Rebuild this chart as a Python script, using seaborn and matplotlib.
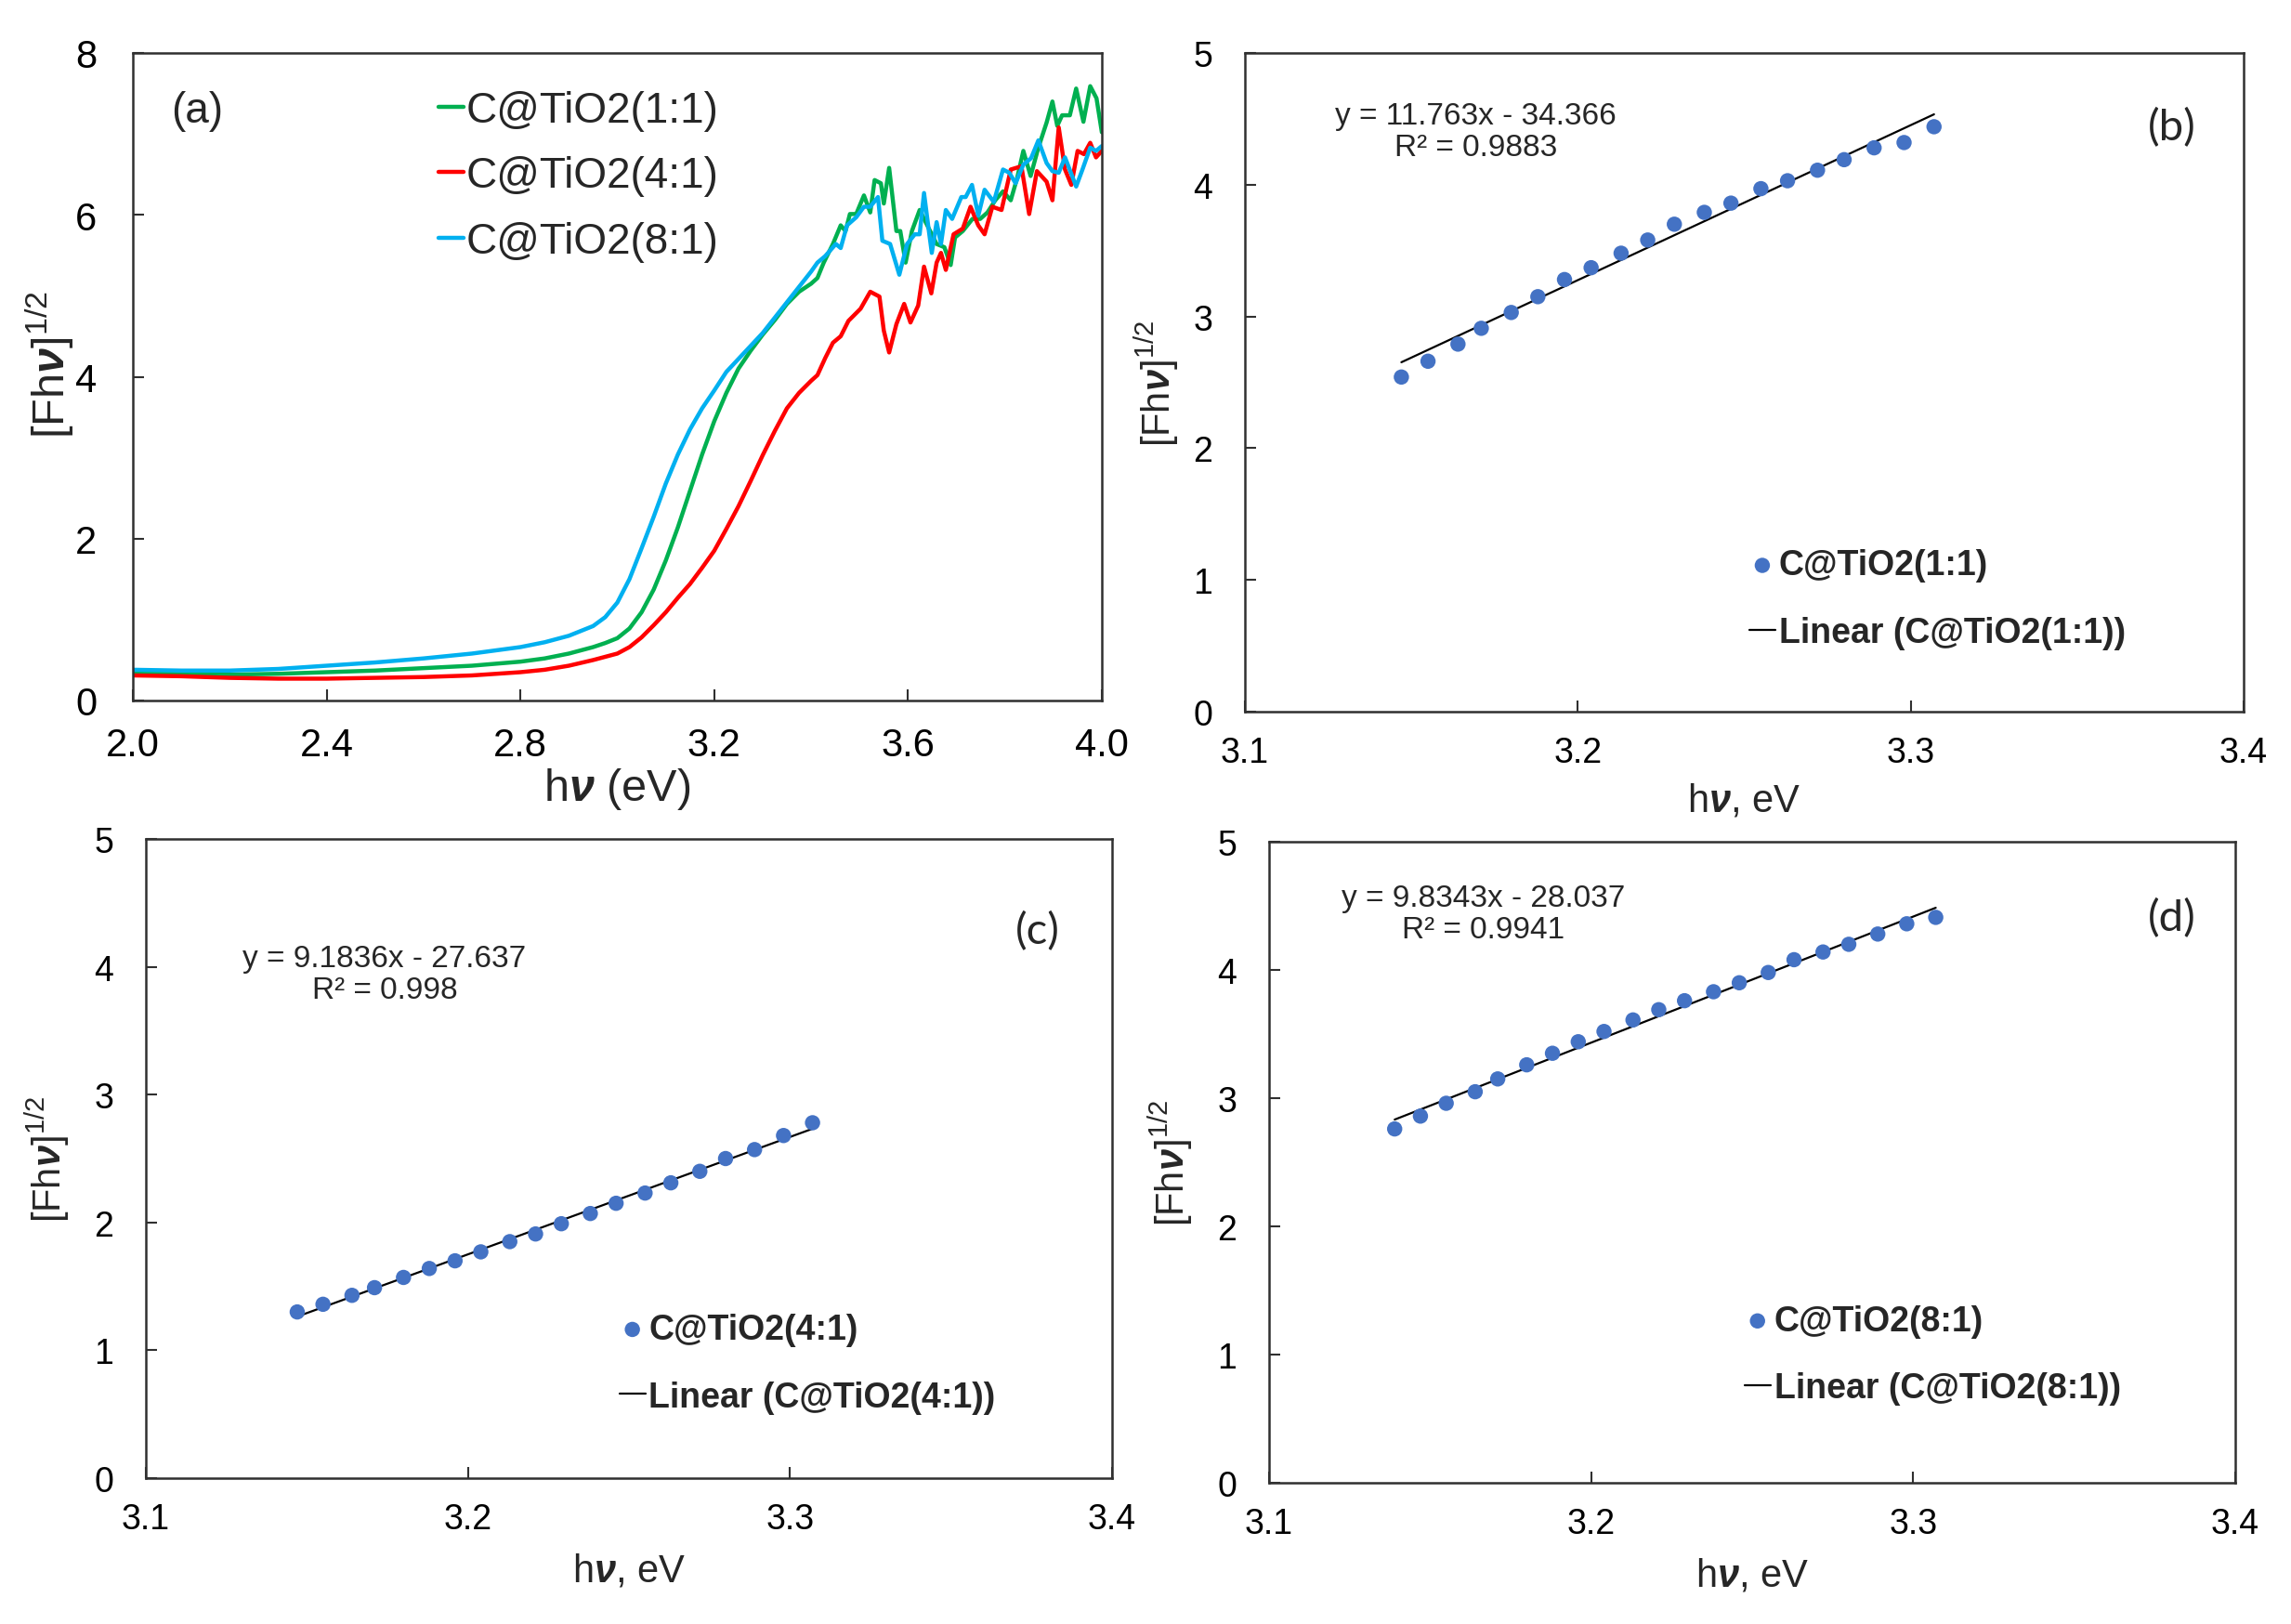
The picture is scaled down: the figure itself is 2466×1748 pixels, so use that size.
import numpy as np
import pandas as pd
import seaborn as sns
import matplotlib.pyplot as plt

sns.set_theme(style="white")
plt.rcParams['font.family'] = ['Liberation Sans', 'DejaVu Sans']
plt.rcParams['mathtext.fontset'] = 'custom'
plt.rcParams['mathtext.rm'] = 'Liberation Sans'
plt.rcParams['mathtext.it'] = 'Liberation Sans:italic'
plt.rcParams['mathtext.bf'] = 'Liberation Sans:bold'
plt.rcParams['mathtext.bfit'] = 'Liberation Sans:italic:bold'

# ---- panel (a): [F h nu]^1/2 vs h nu ----
x_smooth = [2.0, 2.1, 2.2, 2.3, 2.4, 2.5, 2.6, 2.7, 2.8, 2.85, 2.9, 2.95, 2.975, 3.0, 3.025,
            3.05, 3.075, 3.1, 3.125, 3.15, 3.175, 3.2, 3.225, 3.25, 3.275, 3.3, 3.325,
            3.35, 3.375, 3.4]

g11_smooth = [0.35, 0.34, 0.32, 0.33, 0.35, 0.37, 0.40, 0.43, 0.48, 0.52, 0.58, 0.66, 0.71,
              0.77, 0.89, 1.09, 1.37, 1.73, 2.14, 2.59, 3.04, 3.45, 3.80, 4.10, 4.32, 4.52,
              4.70, 4.90, 5.05, 5.15]
x11_noisy = [3.413, 3.426, 3.445, 3.461, 3.471, 3.480, 3.493, 3.509, 3.522, 3.531, 3.544,
             3.550, 3.561, 3.576, 3.584, 3.595, 3.608, 3.624, 3.643, 3.659, 3.675, 3.688,
             3.697, 3.713, 3.733, 3.749, 3.764, 3.780, 3.796, 3.812, 3.825, 3.838, 3.853,
             3.869, 3.886, 3.898, 3.908, 3.918, 3.934, 3.947, 3.962, 3.976, 3.989, 4.0]
g11_noisy = [5.22, 5.41, 5.64, 5.87, 5.80, 6.01, 6.01, 6.24, 6.03, 6.43, 6.39, 6.14, 6.58,
             5.80, 5.80, 5.41, 5.80, 6.06, 5.83, 5.64, 5.60, 5.38, 5.72, 5.80, 5.95, 5.95,
             6.03, 6.18, 6.29, 6.18, 6.45, 6.79, 6.48, 6.83, 7.14, 7.40, 7.10, 7.23, 7.23,
             7.56, 7.15, 7.59, 7.44, 7.02]

r41_smooth = [0.31, 0.30, 0.28, 0.27, 0.27, 0.28, 0.29, 0.31, 0.35, 0.38, 0.43, 0.50, 0.54,
              0.58, 0.66, 0.78, 0.93, 1.09, 1.27, 1.44, 1.64, 1.85, 2.12, 2.40, 2.71, 3.03,
              3.33, 3.61, 3.80, 3.95]
x41_noisy = [3.413, 3.429, 3.445, 3.461, 3.477, 3.502, 3.522, 3.541, 3.550, 3.561, 3.576,
             3.592, 3.605, 3.621, 3.633, 3.648, 3.659, 3.668, 3.678, 3.694, 3.713, 3.729,
             3.745, 3.758, 3.774, 3.793, 3.812, 3.834, 3.850, 3.866, 3.886, 3.898, 3.911,
             3.924, 3.937, 3.950, 3.963, 3.976, 3.988, 4.0]
r41_noisy = [4.02, 4.23, 4.42, 4.50, 4.69, 4.84, 5.05, 4.99, 4.57, 4.30, 4.65, 4.90, 4.67,
             4.88, 5.36, 5.03, 5.41, 5.53, 5.32, 5.76, 5.83, 6.10, 5.87, 5.76, 6.10, 6.06,
             6.56, 6.60, 6.01, 6.54, 6.41, 6.18, 7.08, 6.56, 6.37, 6.79, 6.75, 6.89, 6.71,
             6.79]

b81_smooth = [0.38, 0.37, 0.37, 0.39, 0.43, 0.47, 0.52, 0.58, 0.66, 0.72, 0.80, 0.92, 1.03,
              1.21, 1.50, 1.88, 2.27, 2.68, 3.04, 3.35, 3.61, 3.83, 4.06, 4.22, 4.38, 4.54,
              4.73, 4.92, 5.11, 5.30]
x81_noisy = [3.413, 3.429, 3.451, 3.461, 3.474, 3.493, 3.509, 3.522, 3.538, 3.547, 3.563,
             3.582, 3.598, 3.614, 3.624, 3.633, 3.643, 3.649, 3.659, 3.668, 3.678, 3.691,
             3.710, 3.719, 3.732, 3.745, 3.758, 3.777, 3.796, 3.809, 3.822, 3.838, 3.854,
             3.869, 3.886, 3.898, 3.911, 3.924, 3.947, 3.960, 3.976, 3.988, 4.0]
b81_noisy = [5.41, 5.49, 5.64, 5.59, 5.87, 5.97, 6.10, 6.10, 6.22, 5.68, 5.64, 5.26, 5.64,
             5.76, 5.76, 6.27, 5.80, 5.53, 5.91, 5.64, 6.06, 5.95, 6.22, 6.22, 6.37, 5.99,
             6.31, 6.16, 6.56, 6.52, 6.39, 6.62, 6.70, 6.92, 6.64, 6.54, 6.52, 6.71, 6.35,
             6.56, 6.83, 6.79, 6.85]

series_names = ['C@TiO2(1:1)', 'C@TiO2(4:1)', 'C@TiO2(8:1)']
series_colors = ['#00B050', '#FF0000', '#00B0F0']

# ---- panels (b)-(d): Tauc fits ----
x_fit = [3.147, 3.155, 3.164, 3.171, 3.180, 3.188, 3.196, 3.204, 3.213, 3.221, 3.229,
         3.238, 3.246, 3.255, 3.263, 3.272, 3.280, 3.289, 3.298, 3.307]
y_b = [2.54, 2.66, 2.79, 2.91, 3.03, 3.15, 3.28, 3.37, 3.48, 3.58, 3.70, 3.79, 3.86, 3.97,
       4.03, 4.11, 4.19, 4.28, 4.32, 4.44]
y_c = [1.30, 1.36, 1.43, 1.49, 1.57, 1.64, 1.70, 1.77, 1.85, 1.91, 1.99, 2.07, 2.15, 2.23,
       2.31, 2.40, 2.50, 2.57, 2.68, 2.78]
x_fit_d = [3.139, 3.147, 3.155, 3.164, 3.171, 3.180, 3.188, 3.196, 3.204, 3.213, 3.221,
           3.229, 3.238, 3.246, 3.255, 3.263, 3.272, 3.280, 3.289, 3.298, 3.307]
y_d = [2.76, 2.86, 2.96, 3.05, 3.15, 3.26, 3.35, 3.44, 3.52, 3.61, 3.69, 3.76, 3.83, 3.90,
       3.98, 4.08, 4.14, 4.20, 4.28, 4.36, 4.41]
slopes = [11.763, 9.1836, 9.8343]
intercepts = [-34.366, -27.637, -28.037]
eq_texts = ['y = 11.763x - 34.366\nR² = 0.9883',
            'y = 9.1836x - 27.637\nR² = 0.998',
            'y = 9.8343x - 28.037\nR² = 0.9941']
samples = ['C@TiO2(1:1)', 'C@TiO2(4:1)', 'C@TiO2(8:1)']

W, H = 2466, 1749
fig = plt.figure(figsize=(W / 100, H / 100), dpi=100)


def frame(l, r, t, b):
    return fig.add_axes([l / W, (H - b) / H, (r - l) / W, (b - t) / H])


ax_a = frame(143, 1186, 58, 755)
ax_b = frame(1340, 2415, 58, 767)
ax_c = frame(157, 1197, 904, 1592)
ax_d = frame(1366, 2406, 907, 1597)

ylab = r'[Fh$\boldsymbol{\nu}$]$^{1/2}$'

for ax in [ax_a, ax_b, ax_c, ax_d]:
    for s in ax.spines.values():
        s.set_color('#303030')
        s.set_linewidth(1.8)
    ax.tick_params(direction='in', length=8.5, width=1.5, color='#303030',
                   bottom=True, left=True, top=False, right=False)

# ---- (a)
curves = [(x_smooth + x11_noisy, g11_smooth + g11_noisy),
          (x_smooth + x41_noisy, r41_smooth + r41_noisy),
          (x_smooth + x81_noisy, b81_smooth + b81_noisy)]
for (xs, ys), name, col in zip(curves, series_names, series_colors):
    sns.lineplot(x=xs, y=ys, ax=ax_a, color=col, lw=3.2, label=name)
ax_a.set_xlim(2.0, 4.0)
ax_a.set_ylim(0, 8)
ax_a.set_xticks([2.0, 2.4, 2.8, 3.2, 3.6, 4.0])
ax_a.set_xticklabels(['2.0', '2.4', '2.8', '3.2', '3.6', '4.0'])
ax_a.set_yticks([0, 2, 4, 6, 8])
ax_a.tick_params(axis='both', labelsize=30, colors='#303030', labelcolor='black')
ax_a.tick_params(axis='x', pad=20)
ax_a.tick_params(axis='y', pad=28)
ax_a.set_xlabel(r'h$\boldsymbol{\nu}$ (eV)', fontsize=35, va='center')
ax_a.set_ylabel(ylab, fontsize=35, va='center')
ax_a.xaxis.set_label_coords(0.5, -0.135)
ax_a.yaxis.set_label_coords(-0.086, 0.52)
ax_a.text(0.066, 0.911, '(a)', transform=ax_a.transAxes, fontsize=33,
          ha='center', va='center')
ax_a.legend(loc='center left', bbox_to_anchor=(0.315, 0.81), frameon=False,
            fontsize=33, handlelength=0.6, handletextpad=0.05, labelspacing=0.57,
            borderpad=0, borderaxespad=0)

# ---- (b)-(d)
panels = [(ax_b, x_fit, y_b, '(b)', (0.928, 0.887), (0.231, 0.881), (0.505, 0.171)),
          (ax_c, x_fit, y_c, '(c)', (0.923, 0.856), (0.247, 0.788), (0.490, 0.180)),
          (ax_d, x_fit_d, y_d, '(d)', (0.934, 0.881), (0.222, 0.888), (0.492, 0.200))]
for i, (ax, xs, ys, tag, tag_pos, eq_pos, leg_pos) in enumerate(panels):
    sns.scatterplot(x=xs, y=ys, ax=ax, color='#4472C4', s=140, edgecolor='none',
                    label=samples[i], zorder=3)
    x_ends = [xs[0], xs[-1]]
    y_ends = [slopes[i] * v + intercepts[i] for v in x_ends]
    sns.lineplot(x=x_ends, y=y_ends, ax=ax, color='black', lw=1.6,
                 label='Linear (' + samples[i] + ')', zorder=2)
    ax.set_xlim(3.1, 3.4)
    ax.set_ylim(0, 5)
    ax.set_xticks([3.1, 3.2, 3.3, 3.4])
    ax.set_xticklabels(['3.1', '3.2', '3.3', '3.4'])
    ax.set_yticks([0, 1, 2, 3, 4, 5])
    ax.tick_params(axis='both', labelsize=27, colors='#303030', labelcolor='black')
    ax.tick_params(axis='x', pad=19)
    ax.tick_params(axis='y', pad=25)
    ax.set_xlabel(r'h$\boldsymbol{\nu}$, eV', fontsize=30, va='center')
    ax.set_ylabel(ylab, fontsize=30, va='center')
    if ax is ax_b:
        ax.xaxis.set_label_coords(0.5, -0.134)
        ax.yaxis.set_label_coords(-0.088, 0.5)
    else:
        ax.xaxis.set_label_coords(0.5, -0.144)
        ax.yaxis.set_label_coords(-0.102, 0.5)
    ax.text(tag_pos[0], tag_pos[1], tag, transform=ax.transAxes, fontsize=34,
            family=['Lato', 'Liberation Sans'], ha='center', va='center')
    ax.text(eq_pos[0], eq_pos[1], eq_texts[i], transform=ax.transAxes, fontsize=24,
            ha='center', va='center', multialignment='center', linespacing=1.12)
    ax.legend(loc='center left', bbox_to_anchor=leg_pos, frameon=False,
              prop={'size': 27, 'weight': 'bold'}, handlelength=0.75,
              handletextpad=0.1, labelspacing=0.98, borderpad=0, borderaxespad=0)

fig.savefig('out.png', dpi=100, facecolor='white')
